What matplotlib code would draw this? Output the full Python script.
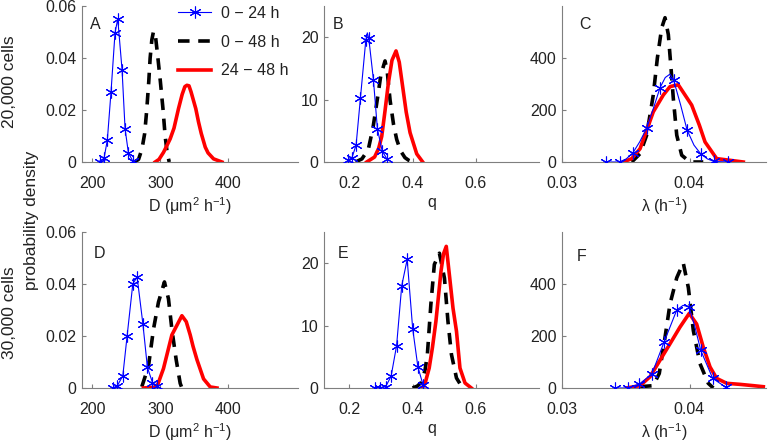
import matplotlib
matplotlib.use("Agg")
import matplotlib.pyplot as plt

plt.rcParams['font.family'] = ['Liberation Sans', 'DejaVu Sans']
plt.rcParams['mathtext.fontset'] = 'custom'
plt.rcParams['mathtext.rm'] = 'Liberation Sans'
plt.rcParams['mathtext.it'] = 'Liberation Sans'
plt.rcParams['mathtext.default'] = 'regular'

# ---- data ----
series_labels = ['0 \u2212 24 h', '0 \u2212 48 h', '24 \u2212 48 h']
row_labels = ['20,000 cells', '30,000 cells']
panel_letters = ['A', 'B', 'C', 'D', 'E', 'F']

# A : D, 20,000 cells
a_blue_x = [211.5, 217.4, 222.2, 227.6, 233.5, 237.5, 243.8, 248.2, 253.1, 259.6]
a_blue_y = [0.0001, 0.0015, 0.0085, 0.027, 0.0498, 0.0550, 0.0354, 0.0128, 0.0035, 0.0003]
a_black_x = [262, 268, 273, 277, 280, 283, 285, 287.5, 290, 293, 296, 300, 304, 307, 310, 313]
a_black_y = [0, 0.001, 0.005, 0.011, 0.020, 0.031, 0.040, 0.047, 0.0503, 0.048, 0.041, 0.031, 0.020, 0.010, 0.0035, 0]
a_red_x = [292.4, 298, 304.6, 309, 314.4, 320, 326.6, 332, 336, 339, 342, 345, 347.8, 352, 356, 360, 365.9, 370, 378.1, 390.4]
a_red_y = [0, 0.001, 0.0037, 0.006, 0.0089, 0.013, 0.0205, 0.026, 0.029, 0.0295, 0.0293, 0.027, 0.0244, 0.0205, 0.0154, 0.011, 0.0057, 0.0035, 0.0012, 0]

# B : q, 20,000 cells
b_blue_x = [0.1951, 0.2078, 0.2215, 0.2351, 0.2522, 0.2570, 0.2617, 0.2763, 0.2889, 0.3038, 0.3187]
b_blue_y = [0.3, 0.6, 2.7, 10.2, 19.5, 20.7, 19.8, 13.2, 5.3, 1.8, 0.5]
b_blue_marks = [0, 1, 2, 3, 4, 6, 7, 8, 9, 10]
b_black_x = [0.22, 0.24, 0.26, 0.275, 0.29, 0.30, 0.313, 0.32, 0.329, 0.34, 0.35, 0.362, 0.376, 0.39, 0.40]
b_black_y = [0, 0.5, 2, 5.5, 10.5, 14, 16.2, 14.5, 9.9, 6, 3.6, 1.8, 0.7, 0.2, 0]
b_red_x = [0.2551, 0.28, 0.293, 0.3026, 0.313, 0.3235, 0.335, 0.3478, 0.358, 0.369, 0.38, 0.3922, 0.4133, 0.4323]
b_red_y = [0, 0.8, 2.2, 4.1, 8.2, 12.6, 16.3, 17.8, 16, 12, 8, 4.7, 1.3, 0]

# C : lambda, 20,000 cells
c_blue_x = [0.03345, 0.03451, 0.03504, 0.03557, 0.03610, 0.03663, 0.03716, 0.03769, 0.03810,
            0.03847, 0.03875, 0.03930, 0.03981, 0.04035, 0.04087, 0.04140, 0.04193, 0.04299]
c_blue_y = [0, 0, 12, 36, 78, 129, 205, 286, 325, 338, 316, 220, 123, 65, 32, 12, 2, 0]
c_blue_marks = [0, 1, 3, 5, 7, 10, 12, 14, 16, 17]
c_black_x = [0.03547, 0.03612, 0.03664, 0.03716, 0.03748, 0.03782, 0.03808, 0.03834, 0.03855,
             0.03873, 0.03900, 0.03939, 0.04004, 0.04108]
c_black_y = [0, 32, 103, 258, 400, 516, 555, 490, 361, 245, 103, 26, 0, 0]
c_red_x = [0.03481, 0.03547, 0.03612, 0.03716, 0.03795, 0.03847, 0.03912, 0.04017, 0.04077,
           0.04122, 0.04213, 0.04422]
c_red_y = [0, 13, 51, 193, 258, 290, 297, 219, 142, 77, 13, 0]

# D : D, 30,000 cells
d_blue_x = [231.0, 236.9, 244.9, 251.2, 259.6, 265.9, 274.3, 281.0, 288.4, 295.7]
d_blue_y = [0.0001, 0.0009, 0.0047, 0.020, 0.0401, 0.0427, 0.0248, 0.0079, 0.0021, 0.0008]
d_black_x = [272.8, 282.5, 289.9, 297.2, 306.0, 311.9, 316.9, 323.2, 329.1, 331.6]
d_black_y = [0.0005, 0.0083, 0.0226, 0.033, 0.0408, 0.0343, 0.0226, 0.0109, 0.0018, 0]
d_red_x = [275.1, 294.9, 304.6, 316.9, 331.6, 338, 343.8, 348, 353.7, 363.4, 373.2, 383.1]
d_red_y = [0, 0.0004, 0.0075, 0.0204, 0.0278, 0.0255, 0.0204, 0.016, 0.0109, 0.0035, 0.0004, 0]

# E : q, 30,000 cells
e_blue_x = [0.2803, 0.2976, 0.3149, 0.3323, 0.3496, 0.3659, 0.3831, 0.4005, 0.4169, 0.4332]
e_blue_y = [0.05, 0.05, 0.2, 1.9, 6.8, 16.4, 20.6, 9.5, 3.4, 0.5]
e_black_x = [0.40, 0.415, 0.43, 0.44, 0.447, 0.458, 0.469, 0.485, 0.501, 0.512, 0.523, 0.539, 0.556, 0.565]
e_black_y = [0, 0.3, 1.0, 3, 5.4, 13.4, 19.8, 21.6, 17.6, 10.7, 5.4, 1.6, 0.2, 0]
e_red_x = [0.431, 0.44, 0.4527, 0.463, 0.474, 0.49, 0.498, 0.5067, 0.5177, 0.528, 0.539, 0.550, 0.566, 0.586]
e_red_y = [0, 0.8, 3.2, 6.5, 10.7, 18.7, 21.5, 22.7, 17.6, 12.8, 9.1, 3.2, 0.8, 0]

# F : lambda, 30,000 cells
f_blue_x = [0.03416, 0.03515, 0.03606, 0.03704, 0.03800, 0.03900, 0.03950, 0.03996, 0.04043,
            0.04088, 0.04182, 0.04284]
f_blue_y = [0, 0, 15, 53, 176, 300, 318, 312, 234, 145, 37, 3]
f_blue_marks = [0, 1, 2, 3, 4, 5, 7, 9, 10, 11]
f_black_x = [0.03612, 0.03716, 0.03763, 0.03808, 0.03847, 0.03900, 0.03951, 0.03991, 0.04030,
             0.04082, 0.04147, 0.04187]
f_black_y = [5, 9, 56, 195, 323, 424, 481, 386, 221, 94, 18, 0]
f_red_x = [0.03507, 0.03612, 0.03690, 0.03769, 0.03847, 0.03925, 0.03998, 0.04056, 0.04108,
           0.04161, 0.04213, 0.04292, 0.04396, 0.04500, 0.04579]
f_red_y = [0, 9, 43, 107, 170, 234, 287, 246, 157, 81, 37, 18, 14, 9, 5]

x_labels = [r'D ($\mu$m$^2$ h$^{-1}$)', 'q', r'$\lambda$ (h$^{-1}$)']
x_limits = [(185, 502), (0.12, 0.8), (0.03, 0.046)]
x_ticks = [[200, 300, 400], [0.2, 0.4, 0.6], [0.03, 0.04]]
x_ticklabels = [['200', '300', '400'], ['0.2', '0.4', '0.6'], ['0.03', '0.04']]
y_limits = [(0, 0.06), (0, 25), (0, 600)]
y_ticks = [[0, 0.02, 0.04, 0.06], [0, 10, 20], [0, 200, 400]]
y_ticklabels = [['0', '0.02', '0.04', '0.06'], ['0', '10', '20'], ['0', '200', '400']]

panels = [
    (a_blue_x, a_blue_y, None, a_black_x, a_black_y, a_red_x, a_red_y),
    (b_blue_x, b_blue_y, b_blue_marks, b_black_x, b_black_y, b_red_x, b_red_y),
    (c_blue_x, c_blue_y, c_blue_marks, c_black_x, c_black_y, c_red_x, c_red_y),
    (d_blue_x, d_blue_y, None, d_black_x, d_black_y, d_red_x, d_red_y),
    (e_blue_x, e_blue_y, None, e_black_x, e_black_y, e_red_x, e_red_y),
    (f_blue_x, f_blue_y, f_blue_marks, f_black_x, f_black_y, f_red_x, f_red_y),
]

# ---- layout ----
W, H = 768, 443
fig = plt.figure(figsize=(W / 100, H / 100), dpi=100)
col_px = [(82, 298), (324, 539), (562, 766)]
row_px = [(6, 162), (232, 388)]
letter_pos = [(0.06, 0.88), (0.065, 0.88), (0.113, 0.88), (0.079, 0.865), (0.088, 0.865), (0.098, 0.84)]

gray = '#7f7f7f'
txt = '#222222'
fs = 11.5
fs_side = 12.5

axes = []
for r in range(2):
    for c in range(3):
        i = r * 3 + c
        x0, x1 = col_px[c]
        y0, y1 = row_px[r]
        ax = fig.add_axes([x0 / W, 1 - y1 / H, (x1 - x0) / W, (y1 - y0) / H])
        ax.patch.set_alpha(0)
        bx, by, bm, kx, ky, rx, ry = panels[i]
        ax.plot(bx, by, color='blue', lw=0.8, marker=(6, 2, 0), markersize=8.5,
                markeredgewidth=0.8, markevery=bm, label=series_labels[0], zorder=3)
        ax.plot(kx, ky, color='black', lw=2.6, linestyle=(0, (3.2, 2.4)),
                label=series_labels[1], zorder=2)
        ax.plot(rx, ry, color='red', lw=2.6, label=series_labels[2], zorder=2.5)
        ax.set_xlim(x_limits[c])
        ax.set_ylim(y_limits[c])
        ax.set_xticks(x_ticks[c])
        ax.set_xticklabels(x_ticklabels[c])
        ax.set_yticks(y_ticks[c])
        ax.set_yticklabels(y_ticklabels[c])
        ax.spines['top'].set_visible(False)
        ax.spines['right'].set_visible(False)
        ax.spines['left'].set_color(gray)
        ax.spines['bottom'].set_color(gray)
        ax.tick_params(direction='in', length=3, color=gray, labelcolor=txt,
                       labelsize=fs)
        ax.tick_params(axis='x', pad=10)
        ax.tick_params(axis='y', pad=4)
        ax.set_xlabel(x_labels[c], fontsize=fs, color=txt, labelpad=3)
        ax.text(letter_pos[i][0], letter_pos[i][1], panel_letters[i], transform=ax.transAxes,
                fontsize=fs, color=txt, ha='center', va='center')
        axes.append(ax)

axes[0].legend(loc='upper left', bbox_to_anchor=(0.444, 1.0), frameon=False,
               fontsize=fs, handlelength=2.1, handletextpad=0.6, labelspacing=0.85,
               borderpad=0, borderaxespad=0, numpoints=1, labelcolor=txt)

fig.text(10 / W, 1 - 82 / H, row_labels[0], rotation=90, ha='center', va='center',
         fontsize=fs_side, color=txt)
fig.text(10 / W, 1 - 313 / H, row_labels[1], rotation=90, ha='center', va='center',
         fontsize=fs_side, color=txt)
fig.text(32 / W, 1 - 220 / H, 'probability density', rotation=90, ha='center', va='center',
         fontsize=fs_side, color=txt)

fig.savefig('out.png', dpi=100)
